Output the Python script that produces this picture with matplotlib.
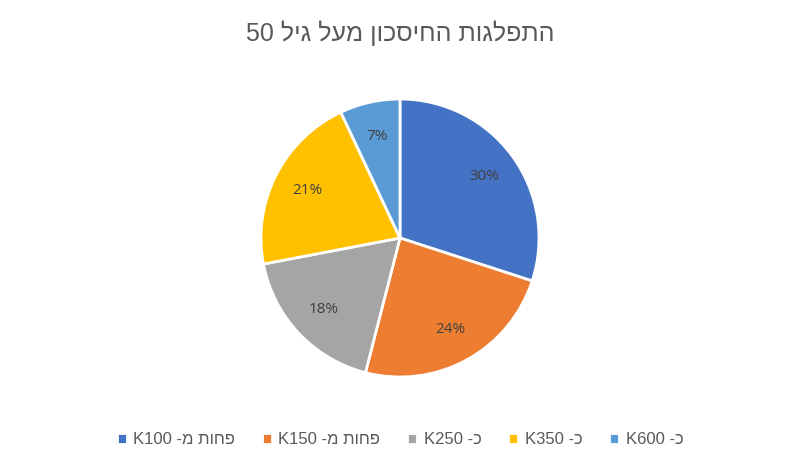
import matplotlib.pyplot as plt

plt.rcParams['font.family'] = ['Liberation Sans', 'DejaVu Sans']

# matplotlib has no bidi, so Hebrew is reversed to visual order by hand
def rtl(s):
    return s[::-1]

title = '50 ' + rtl('התפלגות החיסכון מעל גיל')
labels = ['K100 ' + rtl('פחות מ-'), 'K150 ' + rtl('פחות מ-'),
          'K250 ' + rtl('כ-'), 'K350 ' + rtl('כ-'), 'K600 ' + rtl('כ-')]
values = [30, 24, 18, 21, 7]
colors = ['#4472C4', '#ED7D31', '#A5A5A5', '#FFC000', '#5B9BD5']

fig = plt.figure(figsize=(8, 4.72), dpi=100)
ax = fig.add_axes([0.5 - 139 / 800, 1 - (238 + 139) / 472, 278 / 800, 278 / 472])
wedges, texts, autotexts = ax.pie(values, colors=colors, startangle=90, counterclock=False,
                                  autopct='%1.0f%%', pctdistance=0.75,
                                  wedgeprops=dict(edgecolor='white', linewidth=2),
                                  textprops=dict(color='#404040', fontsize=11,
                                                 family=['Open Sans', 'DejaVu Sans']))
ax.set_xlim(-1, 1)
ax.set_ylim(-1, 1)
ax.set_aspect('equal')

fig.text(0.5, 1 - 33 / 472, title, ha='center', va='center', fontsize=18, color='#595959')
fig.legend(wedges, labels, loc='center', bbox_to_anchor=(0.5, 1 - 440 / 472), ncol=5,
           frameon=False, fontsize=12, handlelength=0.6, handleheight=0.6,
           handletextpad=0.4, columnspacing=1.6, labelcolor='#595959')

fig.savefig('out.png', dpi=100)
